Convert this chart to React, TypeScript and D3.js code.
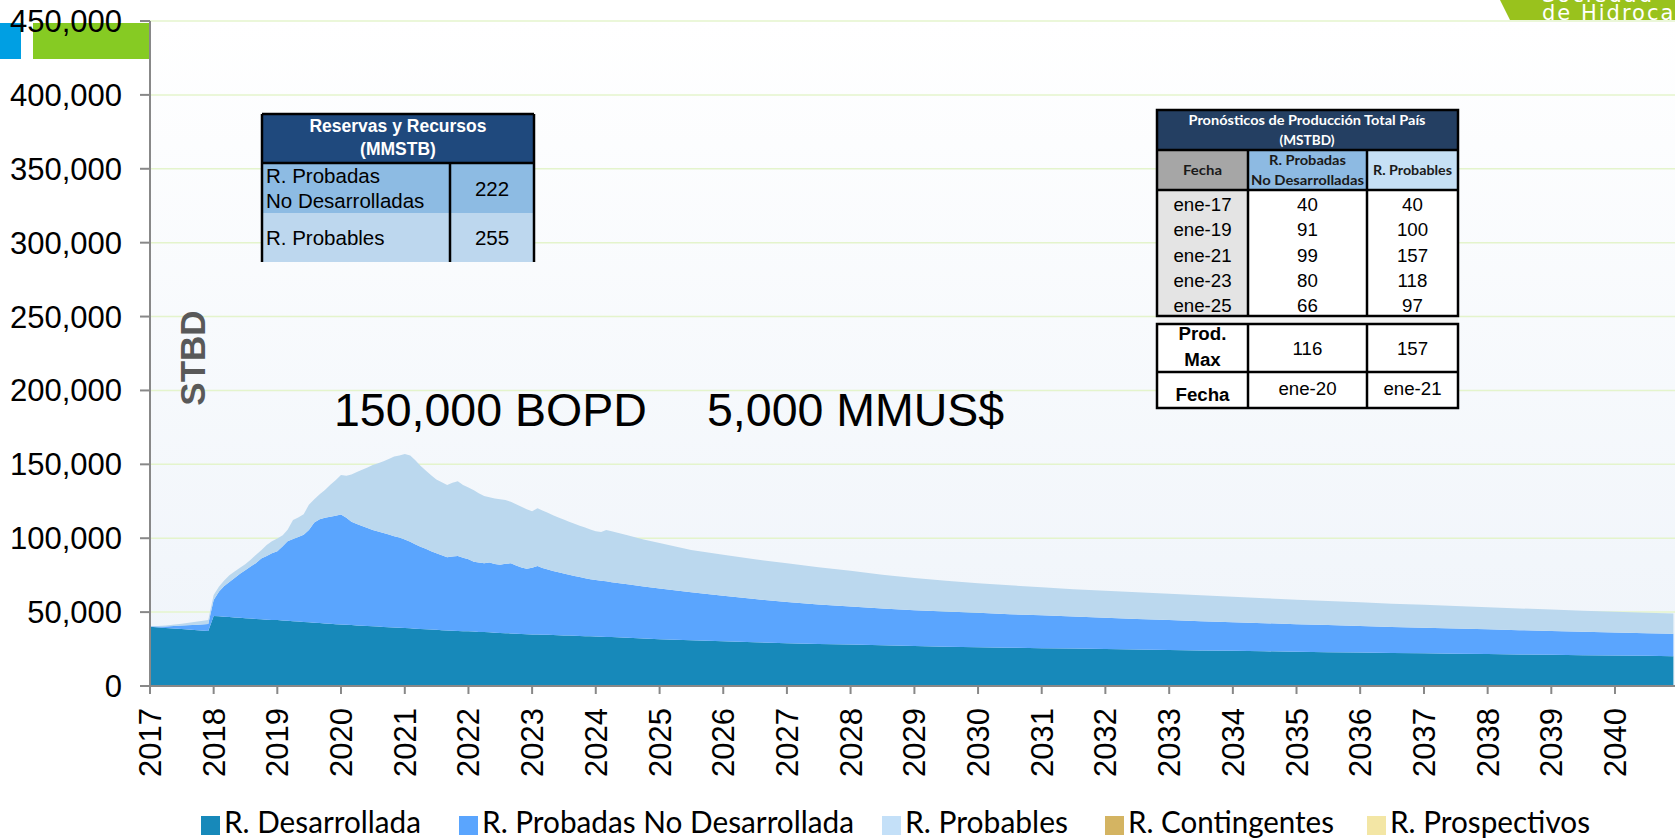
import React from "react";
import * as d3 from "d3";

// ---------- DATA (MSTBD, stacked series values) ----------
const dates = [
  "2017-01", "2017-04", "2017-07", "2017-10", "2017-12",
  "2018-01", "2018-02", "2018-03", "2018-04", "2018-05", "2018-06", "2018-07", "2018-08", "2018-09", "2018-10", "2018-11", "2018-12",
  "2019-01", "2019-02", "2019-03", "2019-04", "2019-05", "2019-06", "2019-07", "2019-08", "2019-09", "2019-10", "2019-11", "2019-12",
  "2020-01", "2020-02", "2020-03", "2020-04", "2020-05", "2020-06", "2020-07", "2020-08", "2020-09", "2020-10", "2020-11", "2020-12",
  "2021-01", "2021-02", "2021-03", "2021-04", "2021-05", "2021-06", "2021-07", "2021-08", "2021-09", "2021-10", "2021-11", "2021-12",
  "2022-01", "2022-02", "2022-03", "2022-04", "2022-05", "2022-06", "2022-07", "2022-08", "2022-09", "2022-10", "2022-11", "2022-12",
  "2023-01", "2023-02", "2023-03", "2023-04", "2023-05", "2023-06", "2023-07", "2023-08", "2023-09", "2023-10", "2023-11", "2023-12",
  "2024-01", "2024-02", "2024-03", "2024-04", "2024-07", "2024-10",
  "2025-01", "2025-07", "2026-01", "2026-07", "2027-01", "2027-07", "2028-01", "2028-07", "2029-01", "2029-07",
  "2030-01", "2030-07", "2031-01", "2031-07", "2032-01", "2032-07", "2033-01", "2033-07", "2034-01", "2034-07",
  "2035-01", "2035-07", "2036-01", "2036-07", "2037-01", "2037-07", "2038-01", "2038-07", "2039-01", "2039-07",
  "2040-01", "2040-07", "2040-12",
];

const desarrollada = [
  40.1, 39.3, 38.5, 37.7, 37.2,
  47.4, 47.2, 46.9, 46.7, 46.4, 46.2, 45.9, 45.7, 45.4, 45.2, 44.9, 44.7,
  44.6, 44.3, 44.1, 43.8, 43.6, 43.3, 43.1, 42.8, 42.6, 42.3, 42.1, 41.8,
  41.6, 41.4, 41.2, 41.0, 40.8, 40.6, 40.4, 40.2, 40.0, 39.8, 39.6, 39.4,
  39.2, 39.0, 38.8, 38.6, 38.4, 38.2, 38.0, 37.8, 37.6, 37.4, 37.3, 37.1,
  37.0, 36.8, 36.6, 36.5, 36.3, 36.1, 35.9, 35.7, 35.6, 35.4, 35.2, 35.1,
  34.9, 34.8, 34.7, 34.6, 34.5, 34.3, 34.2, 34.1, 34.0, 33.9, 33.7, 33.6,
  33.5, 33.4, 33.2, 33.1, 32.7, 32.2,
  31.7, 30.9, 30.2, 29.6, 29.0, 28.5, 28.0, 27.5, 27.0, 26.6,
  26.3, 25.9, 25.6, 25.3, 25.0, 24.7, 24.4, 24.1, 23.8, 23.5,
  23.2, 22.9, 22.6, 22.4, 22.1, 21.8, 21.6, 21.3, 21.1, 20.8,
  20.6, 20.4, 20.2,
];

const probadasNoDesarrollada = [
  0.1, 1.0, 2.4, 3.7, 4.7,
  10.8, 16.8, 20.6, 23.7, 26.6, 29.7, 32.4, 35.1, 37.8, 41.0, 43.1, 45.1,
  46.6, 50.2, 53.9, 55.7, 57.2, 59.1, 62.5, 67.8, 70.2, 71.6, 72.5, 73.4,
  74.4, 72.4, 70.0, 68.7, 67.5, 66.4, 65.2, 64.3, 63.5, 62.7, 61.8, 61.1,
  60.0, 58.6, 57.2, 55.7, 54.4, 53.0, 51.8, 50.6, 49.5, 50.2, 50.7, 49.7,
  48.7, 47.3, 47.0, 46.6, 47.2, 46.5, 46.1, 47.0, 47.4, 46.1, 45.0, 44.3,
  45.1, 46.4, 45.1, 44.2, 43.4, 42.7, 42.0, 41.2, 40.5, 39.8, 39.2, 38.6,
  38.3, 37.9, 37.6, 37.1, 36.1, 35.2,
  34.3, 32.5, 30.8, 29.2, 27.8, 26.7, 25.8, 25.0, 24.3, 23.8,
  23.2, 22.7, 22.2, 21.7, 21.2, 20.7, 20.2, 19.8, 19.4, 19.0,
  18.6, 18.3, 18.0, 17.6, 17.4, 17.1, 16.8, 16.5, 16.2, 15.9,
  15.6, 15.3, 15.1,
];

const probables = [
  0.1, 0.7, 1.3, 2.2, 2.7,
  3.4, 3.3, 3.8, 4.5, 4.5, 4.1, 4.1, 4.7, 5.6, 5.7, 7.4, 8.2,
  8.6, 7.5, 7.8, 12.8, 13.3, 13.8, 17.0, 15.8, 16.9, 18.7, 21.5, 24.0,
  26.8, 28.4, 32.0, 35.1, 38.1, 40.9, 43.9, 46.2, 48.6, 51.1, 53.9, 55.4,
  57.8, 58.4, 57.0, 54.7, 53.1, 51.4, 49.9, 49.5, 48.9, 49.9, 50.5, 49.2,
  48.6, 48.4, 46.9, 45.5, 44.2, 44.3, 44.3, 43.1, 41.6, 41.5, 41.1, 40.2,
  38.3, 39.1, 39.0, 38.4, 37.7, 37.0, 36.4, 35.9, 35.3, 34.8, 34.3, 33.7,
  33.0, 32.9, 34.8, 34.6, 33.2, 31.8,
  30.8, 28.6, 27.8, 27.0, 26.2, 25.2, 24.2, 22.8, 21.8, 20.8,
  20.1, 19.5, 19.0, 18.5, 18.2, 18.0, 17.9, 17.5, 17.2, 16.9,
  16.6, 16.3, 16.0, 15.7, 15.4, 15.2, 14.9, 14.7, 14.5, 14.3,
  14.1, 13.9, 13.7,
];

const yTickValues = [0, 50000, 100000, 150000, 200000, 250000, 300000, 350000, 400000, 450000];
const xTickYears = [
  "2017", "2018", "2019", "2020", "2021", "2022", "2023", "2024", "2025", "2026", "2027", "2028",
  "2029", "2030", "2031", "2032", "2033", "2034", "2035", "2036", "2037", "2038", "2039", "2040",
];

const seriesKeys = ["des", "pnd", "prob"];
const seriesColors = ["#1789ba", "#5aa5fe", "#bbd8ee"];

const legendLabels = ["R. Desarrollada", "R. Probadas No Desarrollada", "R. Probables", "R. Contingentes", "R. Prospectivos"];
const legendColors = ["#1789ba", "#5aa5fe", "#c4e0f8", "#d4b462", "#f3e6a5"];

const reservasLabels = [["R. Probadas", "No Desarrolladas"], ["R. Probables"]];
const reservasValues = [222, 255];

const pronFechas = ["ene-17", "ene-19", "ene-21", "ene-23", "ene-25"];
const pronPND = [40, 91, 99, 80, 66];
const pronProb = [40, 100, 157, 118, 97];
const prodMax = [116, 157];
const prodMaxFecha = ["ene-20", "ene-21"];

// ---------- LAYOUT ----------
const W = 1675;
const H = 839;
const PL = 150; // plot left
const PT = 21; // plot top
const PB = 686; // plot bottom
const YEAR_PX = 63.7;
const ARIAL = "'Liberation Sans', Arial, sans-serif";
const LATO = "Lato, 'Open Sans', sans-serif";

export default function App() {
  const parse = d3.timeParse("%Y-%m");
  const rows = dates.map((d, i) => ({
    date: parse(d) as Date,
    des: desarrollada[i] * 1000,
    pnd: probadasNoDesarrollada[i] * 1000,
    prob: probables[i] * 1000,
  }));
  const stacked = d3.stack<any>().keys(seriesKeys)(rows);

  const x = d3
    .scaleTime()
    .domain([new Date(2017, 0, 1), new Date(2041, 0, 1)])
    .range([PL, PL + 24 * YEAR_PX]);
  const y = d3.scaleLinear().domain([0, 450000]).range([PB, PT]);

  const area = d3
    .area<any>()
    .x((d) => x(d.data.date))
    .y0((d) => y(d[0]))
    .y1((d) => y(d[1]));

  const fmt = d3.format(",");

  // legend layout
  const legendSq = [201, 459, 882, 1105, 1367];
  const legendTextW = [197, 372, 163, 206, 200];

  // right table geometry
  const tL = 1157, tC1 = 1248, tC2 = 1367, tR = 1458;
  const tTop = 110, tTitleB = 150, tHeadB = 190, tDataB = 316, tGapB = 324, tPmB = 372, tBot = 408;
  const c1 = (tL + tC1) / 2, c2 = (tC1 + tC2) / 2, c3 = (tC2 + tR) / 2;

  // left table geometry
  const lL = 262, lC = 450, lR = 534, lTop = 114, lHB = 163, lR1B = 213, lBot = 262;

  return (
    <svg
      width={W}
      height={H}
      style={{ position: "absolute", left: 0, top: 0, display: "block", background: "#fff" }}
    >
      <defs>
        <linearGradient id="bgGrad" x1="0" y1="0" x2="0" y2="1">
          <stop offset="0%" stopColor="#ffffff" />
          <stop offset="100%" stopColor="#eff4fa" />
        </linearGradient>
        <clipPath id="logoClip">
          <polygon points="1500,0 1675,0 1675,20 1510,20" />
        </clipPath>
      </defs>

      {/* plot background */}
      <rect x={PL} y={PT} width={W - PL} height={PB - PT} fill="url(#bgGrad)" />

      {/* gridlines */}
      {yTickValues.slice(1).map((v) => (
        <line key={"g" + v} x1={PL} x2={W} y1={y(v)} y2={y(v)} stroke="#e4f4cc" strokeWidth={1.5} />
      ))}

      {/* areas */}
      {stacked.map((s, i) => (
        <path key={s.key} d={area(s) || ""} fill={seriesColors[i]} />
      ))}

      {/* top-left decoration */}
      <rect x={0} y={23} width={21} height={36} fill="#009fe3" />
      <rect x={33} y={23} width={117} height={36} fill="#86cb23" />

      {/* top-right logo */}
      <polygon points="1500,0 1675,0 1675,20 1510,20" fill="#99c21d" />
      <g clipPath="url(#logoClip)" fill="#ffffff" fontFamily="'DejaVu Sans', sans-serif" fontSize={21} letterSpacing={2}>
        <text x={1542} y={2}>Sociedad</text>
        <text x={1542} y={20}>de Hidroca</text>
      </g>

      {/* axes */}
      <line x1={PL} x2={PL} y1={PT} y2={PB} stroke="#888" strokeWidth={2} />
      <line x1={PL} x2={W} y1={PB} y2={PB} stroke="#888" strokeWidth={2} />
      {yTickValues.map((v) => (
        <g key={"yt" + v}>
          <line x1={140} x2={PL} y1={y(v)} y2={y(v)} stroke="#888" strokeWidth={2} />
          <text
            x={122}
            y={y(v) + 11}
            textAnchor="end"
            fontFamily={ARIAL}
            fontSize={31}
            fill="#000"
          >
            {fmt(v)}
          </text>
        </g>
      ))}
      {xTickYears.map((yr) => {
        const xx = x(new Date(+yr, 0, 1));
        return (
          <g key={"xt" + yr}>
            <line x1={xx} x2={xx} y1={PB} y2={PB + 8} stroke="#888" strokeWidth={2} />
            <text
              transform={`translate(${xx + 11},708) rotate(-90)`}
              textAnchor="end"
              fontFamily={ARIAL}
              fontSize={31}
              fill="#000"
            >
              {yr}
            </text>
          </g>
        );
      })}

      {/* STBD axis title */}
      <text
        transform="translate(205,358) rotate(-90)"
        textAnchor="middle"
        fontFamily={ARIAL}
        fontWeight="bold"
        fontSize={35}
        fill="#595959"
      >
        STBD
      </text>

      {/* annotation */}
      <text x={334} y={426} fontFamily={ARIAL} fontSize={46.5} fill="#000">
        150,000 BOPD
      </text>
      <text x={707} y={426} fontFamily={ARIAL} fontSize={46.5} fill="#000">
        5,000 MMUS$
      </text>

      {/* left table: Reservas y Recursos */}
      <g>
        <rect x={lL} y={lTop} width={lR - lL} height={lHB - lTop} fill="#1f497d" />
        <rect x={lL} y={lHB} width={lR - lL} height={lR1B - lHB} fill="#8dbbe3" />
        <rect x={lL} y={lR1B} width={lR - lL} height={lBot - lR1B} fill="#bdd7ee" />
        <text x={(lL + lR) / 2} y={132} textAnchor="middle" fontFamily={ARIAL} fontWeight="bold" fontSize={17.5} fill="#fff">
          Reservas y Recursos
        </text>
        <text x={(lL + lR) / 2} y={155} textAnchor="middle" fontFamily={ARIAL} fontWeight="bold" fontSize={17.5} fill="#fff">
          (MMSTB)
        </text>
        <text x={266} y={183} fontFamily={ARIAL} fontSize={20.5} fill="#000">{reservasLabels[0][0]}</text>
        <text x={266} y={208} fontFamily={ARIAL} fontSize={20.5} fill="#000">{reservasLabels[0][1]}</text>
        <text x={(lC + lR) / 2} y={196} textAnchor="middle" fontFamily={ARIAL} fontSize={20.5} fill="#000">{reservasValues[0]}</text>
        <text x={266} y={245} fontFamily={ARIAL} fontSize={20.5} fill="#000">{reservasLabels[1][0]}</text>
        <text x={(lC + lR) / 2} y={245} textAnchor="middle" fontFamily={ARIAL} fontSize={20.5} fill="#000">{reservasValues[1]}</text>
        <g stroke="#000" strokeWidth={2.5}>
          <line x1={lL} x2={lR} y1={lTop} y2={lTop} />
          <line x1={lL} x2={lL} y1={lTop} y2={lBot} />
          <line x1={lR} x2={lR} y1={lTop} y2={lBot} />
          <line x1={lL} x2={lR} y1={lHB} y2={lHB} />
          <line x1={lC} x2={lC} y1={lHB} y2={lBot} />
        </g>
      </g>

      {/* right table: Pronósticos */}
      <g>
        <rect x={tL} y={tTop} width={tR - tL} height={tTitleB - tTop} fill="#243f62" />
        <rect x={tL} y={tTitleB} width={tC1 - tL} height={tHeadB - tTitleB} fill="#a6a6a6" />
        <rect x={tC1} y={tTitleB} width={tC2 - tC1} height={tHeadB - tTitleB} fill="#8dbae2" />
        <rect x={tC2} y={tTitleB} width={tR - tC2} height={tHeadB - tTitleB} fill="#c6e0f5" />
        <rect x={tL} y={tHeadB} width={tC1 - tL} height={tDataB - tHeadB} fill="#e4e4e4" />
        <rect x={tC1} y={tHeadB} width={tR - tC1} height={tDataB - tHeadB} fill="#ffffff" />
        <rect x={tL} y={tDataB} width={tR - tL} height={tGapB - tDataB} fill="#f3f3f3" />
        <rect x={tL} y={tGapB} width={tR - tL} height={tBot - tGapB} fill="#ffffff" />

        <text x={1307} y={125} textAnchor="middle" fontFamily={LATO} fontWeight="bold" fontSize={13.5} fill="#fff" textLength={237} lengthAdjust="spacingAndGlyphs">
          Pronósticos de Producción Total País
        </text>
        <text x={1307} y={145} textAnchor="middle" fontFamily={LATO} fontWeight="bold" fontSize={13.5} fill="#fff" textLength={55} lengthAdjust="spacingAndGlyphs">
          (MSTBD)
        </text>
        <text x={c1} y={175} textAnchor="middle" fontFamily={LATO} fontWeight="bold" fontSize={14} fill="#1a1a1a" textLength={39} lengthAdjust="spacingAndGlyphs">
          Fecha
        </text>
        <text x={c2} y={165} textAnchor="middle" fontFamily={LATO} fontWeight="bold" fontSize={14} fill="#1a1a1a" textLength={77} lengthAdjust="spacingAndGlyphs">
          R. Probadas
        </text>
        <text x={c2} y={185} textAnchor="middle" fontFamily={LATO} fontWeight="bold" fontSize={14} fill="#1a1a1a" textLength={113} lengthAdjust="spacingAndGlyphs">
          No Desarrolladas
        </text>
        <text x={c3} y={175} textAnchor="middle" fontFamily={LATO} fontWeight="bold" fontSize={14} fill="#1a1a1a" textLength={79} lengthAdjust="spacingAndGlyphs">
          R. Probables
        </text>

        {pronFechas.map((f, i) => {
          const by = 211 + i * 25.3;
          return (
            <g key={f} fontFamily={ARIAL} fontSize={18.7} fill="#000" textAnchor="middle">
              <text x={c1} y={by}>{f}</text>
              <text x={c2} y={by}>{pronPND[i]}</text>
              <text x={c3} y={by}>{pronProb[i]}</text>
            </g>
          );
        })}

        <g fontFamily={ARIAL} fontSize={18.7} fill="#000" textAnchor="middle">
          <text x={c1} y={340} fontWeight="bold">Prod.</text>
          <text x={c1} y={366} fontWeight="bold">Max</text>
          <text x={c2} y={355}>{prodMax[0]}</text>
          <text x={c3} y={355}>{prodMax[1]}</text>
          <text x={c1} y={401} fontWeight="bold">Fecha</text>
          <text x={c2} y={395}>{prodMaxFecha[0]}</text>
          <text x={c3} y={395}>{prodMaxFecha[1]}</text>
        </g>

        <g stroke="#000" strokeWidth={2.5} fill="none">
          <rect x={tL} y={tTop} width={tR - tL} height={tDataB - tTop} />
          <rect x={tL} y={tGapB} width={tR - tL} height={tBot - tGapB} />
          <line x1={tL} x2={tR} y1={tTitleB} y2={tTitleB} />
          <line x1={tL} x2={tR} y1={tHeadB} y2={tHeadB} />
          <line x1={tL} x2={tR} y1={tPmB} y2={tPmB} />
          <line x1={tC1} x2={tC1} y1={tTitleB} y2={tDataB} />
          <line x1={tC2} x2={tC2} y1={tTitleB} y2={tDataB} />
          <line x1={tC1} x2={tC1} y1={tGapB} y2={tBot} />
          <line x1={tC2} x2={tC2} y1={tGapB} y2={tBot} />
        </g>
      </g>

      {/* legend */}
      {legendLabels.map((lab, i) => (
        <g key={lab}>
          <rect x={legendSq[i]} y={816} width={19} height={19} fill={legendColors[i]} />
          <text
            x={legendSq[i] + 23}
            y={833}
            fontFamily={LATO}
            fontSize={31}
            fill="#000"
            textLength={legendTextW[i]}
            lengthAdjust="spacingAndGlyphs"
          >
            {lab}
          </text>
        </g>
      ))}
    </svg>
  );
}
